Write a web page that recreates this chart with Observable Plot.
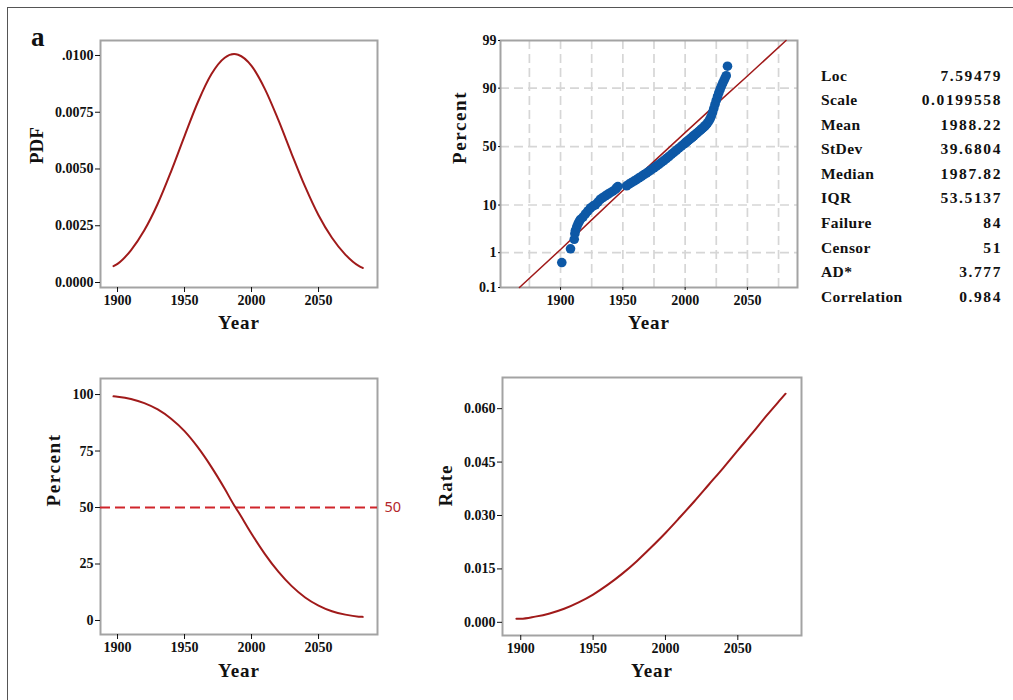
<!DOCTYPE html>
<html><head><meta charset="utf-8">
<script src="https://cdn.jsdelivr.net/npm/d3@7"></script>
<script src="https://cdn.jsdelivr.net/npm/@observablehq/plot@0.6"></script>
<style>
body{margin:0;background:#fff}
#root{position:relative;width:1013px;height:700px;overflow:hidden;background:#fff;font-family:'Liberation Serif','Times New Roman',serif}
.stat{position:absolute;font-weight:bold;font-size:15.5px;line-height:20px;color:#111;white-space:nowrap}
</style></head>
<body><div id="root"></div>
<script>
// ---- data ----
const years = [1897,1900,1910,1920,1930,1940,1950,1960,1970,1980,1987,1990,2000,2010,2020,2030,2040,2050,2060,2070,2080,2083];
const pdfValues = [0.00072,0.00082,0.00142,0.00230,0.00347,0.00490,0.00645,0.00795,0.00917,0.00990,0.01006,0.01003,0.00954,0.00852,0.00716,0.00566,0.00422,0.00296,0.00197,0.00123,0.00073,0.00064];
const survivalPct = [99.2,99.0,98.0,96.2,93.4,89.3,83.8,76.6,68.0,58.3,51.0,48.2,38.4,29.4,21.6,15.2,10.2,6.6,4.1,2.6,1.7,1.6];
const hazardRate = [0.0010,0.0010,0.0016,0.0025,0.0038,0.0056,0.0078,0.0105,0.0136,0.0171,0.0198,0.0210,0.0251,0.0295,0.0340,0.0387,0.0434,0.0483,0.0531,0.0581,0.0628,0.0642];

const failYears = [1901,1908,1911,1911.5,1912,1913,1914,1915,1916,1918,1920,1922,1924,1926,1928,1930,1932,1934,1936,1938,1940,1942,1944,1945,1946,
  1953,1955,1957,1959,1961,1963,1965,1967,1969,1971,1973,1975,1977,1979,1981,1983,1985,1987,1989,1991,1993,1995,1997,1999,
  2000,2001,2002,2003,2004,2005,2006,2007,2008,2009,2010,2011,2012,2013,2014,2015,2016,2017,2018,2019,2020,2021,2022,2023,2024,2025,2026,2027,2028,2029,2030,2031,2032,2033,2034];
const failPct = [0.55,1.25,2.1,2.8,3.3,3.9,4.5,5.0,5.5,6.1,7.0,7.9,8.9,9.6,10.1,11.2,12.4,13.2,14.0,14.8,15.6,16.4,17.4,18.2,19.0,
  19.5,20.5,21.5,22.5,23.5,24.6,25.7,26.9,28.1,29.3,30.6,32.0,33.4,34.9,36.4,38.0,39.7,41.4,43.2,45.0,46.8,48.6,50.4,52.2,
  53.1,54.0,54.9,55.8,56.7,57.6,58.5,59.4,60.3,61.2,62.1,63.0,63.9,64.8,65.7,66.6,67.6,68.6,69.8,71.2,72.8,74.8,77.2,79.8,82.3,84.5,86.4,88.0,89.4,90.6,91.6,92.5,93.3,94.0,96.1];
const fitYears = [1867,1900,1925,1950,1975,2000,2025,2050,2081];
const fitPct = [0.1,1.2,5.4,16.8,37.3,62.0,82.4,93.9,99.0];

const probTicks = [0.1,1,10,50,90,99];
const probTickLabels = ["0.1","1","10","50","90","99"];
const probGridPct = [1,10,50,90];
const probGridYears = [1875,1900,1925,1950,1975,2000,2025,2050,2075];
const yearTicks = [1900,1950,2000,2050];
const pdfTicks = [0,0.0025,0.005,0.0075,0.01];
const survTicks = [0,25,50,75,100];
const rateTicks = [0,0.015,0.03,0.045,0.06];

const statLabels = ["Loc","Scale","Mean","StDev","Median","IQR","Failure","Censor","AD*","Correlation"];
const statValues = ["7.59479","0.0199558","1988.22","39.6804","1987.82","53.5137","84","51","3.777","0.984"];

// ---- helpers ----
function probit(p){
  const a=[-3.969683028665376e+01,2.209460984245205e+02,-2.759285104469687e+02,1.383577518672690e+02,-3.066479806614716e+01,2.506628277459239e+00];
  const b=[-5.447609879822406e+01,1.615858368580409e+02,-1.556989798598866e+02,6.680131188771972e+01,-1.328068155288572e+01];
  const c=[-7.784894002430293e-03,-3.223964580411365e-01,-2.400758277161838e+00,-2.549732539343734e+00,4.374664141464968e+00,2.938163982698783e+00];
  const d=[7.784695709041462e-03,3.224671290700398e-01,2.445134137142996e+00,3.754408661907416e+00];
  const pl=0.02425, ph=1-pl;
  if(p<pl){const q=Math.sqrt(-2*Math.log(p));return (((((c[0]*q+c[1])*q+c[2])*q+c[3])*q+c[4])*q+c[5])/((((d[0]*q+d[1])*q+d[2])*q+d[3])*q+1);}
  if(p<=ph){const q=p-0.5,r=q*q;return (((((a[0]*r+a[1])*r+a[2])*r+a[3])*r+a[4])*r+a[5])*q/(((((b[0]*r+b[1])*r+b[2])*r+b[3])*r+b[4])*r+1);}
  const q=Math.sqrt(-2*Math.log(1-p));return -(((((c[0]*q+c[1])*q+c[2])*q+c[3])*q+c[4])*q+c[5])/((((d[0]*q+d[1])*q+d[2])*q+d[3])*q+1);
}
const serif = "'Liberation Serif','Times New Roman',serif";
const baseStyle = {fontFamily: serif, fontSize: "14px", fontWeight: "bold", color: "#111", background: "transparent", overflow: "visible"};
const curveColor = "#a01a1a";
const yearFmt = d => String(d);
const frameMark = () => Plot.frame({stroke: "#a3a3a3", strokeWidth: 2});
const xLabel = (dy) => Plot.text(["Year"], {text: d => d, frameAnchor: "bottom", dy, fontSize: 19, fontWeight: "bold", fontFamily: serif, fill: "#111"});
const yLabel = (t, dx) => Plot.text([t], {text: d => d, frameAnchor: "left", dx, rotate: -90, fontSize: 19, fontWeight: "bold", fontFamily: serif, fill: "#111"});

const rootEl = document.getElementById("root");
function place(el, x0, y0){ el.style.position = "absolute"; el.style.left = x0 + "px"; el.style.top = y0 + "px"; rootEl.appendChild(el); }
function spacing(svg){
  svg.querySelectorAll("text").forEach(t => {
    const s = t.textContent;
    if (s === "Year" || s === "Rate") t.style.letterSpacing = "1px";
    if (s === "Percent") t.style.letterSpacing = "1.6px";
  });
}

// outer frame lines and panel letter
const topLine = document.createElement("div");
topLine.style.cssText = "position:absolute;left:7px;top:7px;width:1006px;height:0;border-top:1px solid #555";
rootEl.appendChild(topLine);
const leftLine = document.createElement("div");
leftLine.style.cssText = "position:absolute;left:7px;top:7px;width:0;height:693px;border-left:1px solid #555";
rootEl.appendChild(leftLine);
const letter = document.createElement("div");
letter.textContent = "a";
letter.style.cssText = "position:absolute;left:31px;top:22px;font-size:27px;font-weight:bold;line-height:30px;color:#111";
rootEl.appendChild(letter);

const pdfData = years.map((y, i) => ({year: y, v: pdfValues[i]}));
const survData = years.map((y, i) => ({year: y, v: survivalPct[i]}));
const rateData = years.map((y, i) => ({year: y, v: hazardRate[i]}));
const failData = failYears.map((y, i) => ({year: y, p: failPct[i]}));
const fitData = fitYears.map((y, i) => ({year: y, p: fitPct[i]}));

// Panel 1: PDF
const p1 = Plot.plot({
  width: 400, height: 350,
  marginLeft: 100, marginRight: 23, marginTop: 40, marginBottom: 63,
  style: baseStyle,
  x: {domain: [1887.3, 2094]},
  y: {domain: [-0.00022, 0.01066]},
  marks: [
    frameMark(),
    Plot.axisX(yearTicks, {tickSize: 5, tickPadding: 3, label: null, tickFormat: yearFmt, fontSize: 14}),
    Plot.axisY(pdfTicks, {tickSize: 5, tickPadding: 2, label: null, fontSize: 14, tickFormat: d => d === 0.01 ? ".0100" : d.toFixed(4)}),
    Plot.line(pdfData, {x: "year", y: "v", stroke: curveColor, strokeWidth: 2, curve: "monotone-x"}),
    xLabel(41),
    yLabel("PDF", -64)
  ]
});
spacing(p1); place(p1, 0, 0);

// Panel 2: probability plot
const zTicks = probTicks.map(p => probit(p / 100));
const p2 = Plot.plot({
  width: 420, height: 350,
  marginLeft: 100, marginRight: 23, marginTop: 40, marginBottom: 63,
  style: baseStyle,
  x: {domain: [1851.8, 2090.2]},
  y: {domain: [probit(0.001), probit(0.99)]},
  marks: [
    Plot.ruleY(probGridPct, {y: d => probit(d / 100), stroke: "#d6d6d6", strokeWidth: 1.7, strokeDasharray: "9,5"}),
    Plot.ruleX(probGridYears, {stroke: "#d6d6d6", strokeWidth: 1.7, strokeDasharray: "9,5"}),
    frameMark(),
    Plot.axisX(yearTicks, {tickSize: 3, tickPadding: 5, label: null, tickFormat: yearFmt, fontSize: 14}),
    Plot.axisY(zTicks, {tickSize: 2, tickPadding: 2, label: null, fontSize: 14,
      tickFormat: d => { let bi = 0; zTicks.forEach((z, i) => { if (Math.abs(z - d) < Math.abs(zTicks[bi] - d)) bi = i; }); return probTickLabels[bi]; }}),
    Plot.line(fitData, {x: "year", y: d => probit(d.p / 100), stroke: curveColor, strokeWidth: 1.5}),
    Plot.dot(failData, {x: "year", y: d => probit(d.p / 100), r: 4.8, fill: "#0d58a6", stroke: "none"}),
    xLabel(41),
    yLabel("Percent", -41)
  ]
});
spacing(p2); place(p2, 400, 0);

// Panel 3: survival
const p3 = Plot.plot({
  width: 420, height: 360,
  marginLeft: 100, marginRight: 43, marginTop: 38, marginBottom: 66,
  style: baseStyle,
  x: {domain: [1887.3, 2094]},
  y: {domain: [-6.2, 107.1]},
  marks: [
    frameMark(),
    Plot.axisX(yearTicks, {tickSize: 5, tickPadding: 3, label: null, tickFormat: yearFmt, fontSize: 14}),
    Plot.axisY(survTicks, {tickSize: 5, tickPadding: 2, label: null, fontSize: 14}),
    Plot.ruleY([50], {stroke: "#d0252b", strokeWidth: 2, strokeDasharray: "10,5"}),
    Plot.text([50], {y: d => d, text: d => String(d), frameAnchor: "right", dx: 7, textAnchor: "start", fill: "#b3242a", fontFamily: "'Noto Sans', sans-serif", fontWeight: "normal", fontSize: 14.5}),
    Plot.line(survData, {x: "year", y: "v", stroke: curveColor, strokeWidth: 2, curve: "monotone-x"}),
    xLabel(42),
    yLabel("Percent", -47)
  ]
});
spacing(p3); place(p3, 0, 340);

// Panel 4: hazard
const p4 = Plot.plot({
  width: 420, height: 360,
  marginLeft: 102, marginRight: 19, marginTop: 37, marginBottom: 65,
  style: baseStyle,
  x: {domain: [1887.4, 2094]},
  y: {domain: [-0.0037, 0.06875]},
  marks: [
    frameMark(),
    Plot.axisX(yearTicks, {tickSize: 5, tickPadding: 3, label: null, tickFormat: yearFmt, fontSize: 14}),
    Plot.axisY(rateTicks, {tickSize: 5, tickPadding: 2, label: null, fontSize: 14, tickFormat: d => d.toFixed(3)}),
    Plot.line(rateData, {x: "year", y: "v", stroke: curveColor, strokeWidth: 2, curve: "monotone-x"}),
    xLabel(41),
    yLabel("Rate", -57)
  ]
});
spacing(p4); place(p4, 400, 340);

// Stats table
statLabels.forEach((lab, i) => {
  const cy = 75.7 + i * 24.55;
  const l = document.createElement("div");
  l.className = "stat"; l.textContent = lab;
  l.style.left = "821px"; l.style.top = (cy - 10) + "px"; l.style.letterSpacing = "0.4px";
  rootEl.appendChild(l);
  const v = document.createElement("div");
  v.className = "stat"; v.textContent = statValues[i];
  v.style.right = "11px"; v.style.top = (cy - 10) + "px"; v.style.letterSpacing = "1.6px";
  rootEl.appendChild(v);
});
</script>
</body></html>
